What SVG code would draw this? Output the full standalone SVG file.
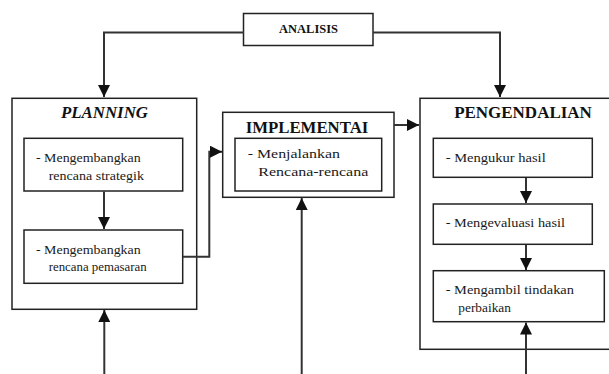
<svg xmlns="http://www.w3.org/2000/svg" width="609" height="374" viewBox="0 0 609 374">
<defs>
<style>
.box{fill:#fff;stroke:#222;stroke-width:1.5}
.ln{fill:none;stroke:#333;stroke-width:2}
.t{font-family:"Liberation Serif","Times New Roman",serif;font-size:13.5px;fill:#1a1a1a}
.h{font-family:"Liberation Serif","Times New Roman",serif;font-size:16.5px;font-weight:bold;fill:#111;text-anchor:middle}
</style>
<marker id="ahb" viewBox="0 0 12 12" refX="12" refY="6" markerWidth="12" markerHeight="12" markerUnits="userSpaceOnUse" orient="auto">
<path d="M0,0 L12,6 L0,12 Z" fill="#111"/>
</marker>
</defs>
<rect width="609" height="374" fill="#fff"/>

<g id="analisis">
<rect class="box" x="243.5" y="13.5" width="129.5" height="32"/>
<text x="308.5" y="32.5" text-anchor="middle" font-family="Liberation Serif, serif" font-size="12" font-weight="bold" fill="#111" textLength="59" lengthAdjust="spacingAndGlyphs">ANALISIS</text>
</g>

<g id="planning">
<rect class="box" x="12" y="98.3" width="184.7" height="211"/>
<text class="h" x="104.5" y="118" font-style="italic" textLength="87" lengthAdjust="spacingAndGlyphs">PLANNING</text>
</g>
<g id="planning-strategik">
<rect class="box" x="24" y="138.3" width="158.7" height="52.7"/>
<text class="t" x="36" y="162" textLength="104.7" lengthAdjust="spacingAndGlyphs">- Mengembangkan</text>
<text class="t" x="48.7" y="180" textLength="95.3" lengthAdjust="spacingAndGlyphs">rencana  strategik</text>
</g>
<g id="planning-pemasaran">
<rect class="box" x="24" y="230" width="158.7" height="53.3"/>
<text class="t" x="36" y="254" textLength="104.7" lengthAdjust="spacingAndGlyphs">- Mengembangkan</text>
<text class="t" x="48.7" y="271" textLength="98" lengthAdjust="spacingAndGlyphs">rencana pemasaran</text>
</g>

<g id="implementai">
<rect class="box" x="222.7" y="112.3" width="171.3" height="85"/>
<text class="h" x="307" y="133" textLength="122.6" lengthAdjust="spacingAndGlyphs">IMPLEMENTAI</text>
</g>
<g id="implementai-menjalankan">
<rect class="box" x="235" y="138.3" width="146.7" height="52.7"/>
<text class="t" x="247.7" y="158" textLength="92.3" lengthAdjust="spacingAndGlyphs">- Menjalankan</text>
<text class="t" x="258.3" y="176" textLength="110" lengthAdjust="spacingAndGlyphs">Rencana-rencana</text>
</g>

<g id="pengendalian">
<rect class="box" x="420" y="98.3" width="200" height="251"/>
<text class="h" x="523" y="118" textLength="137.7" lengthAdjust="spacingAndGlyphs">PENGENDALIAN</text>
</g>
<g id="pengendalian-mengukur">
<rect class="box" x="433.3" y="138.3" width="159" height="39"/>
<text class="t" x="445.7" y="162" textLength="100" lengthAdjust="spacingAndGlyphs">- Mengukur  hasil</text>
</g>
<g id="pengendalian-mengevaluasi">
<rect class="box" x="433.3" y="204" width="159" height="40.3"/>
<text class="t" x="445.7" y="226.5" textLength="119.3" lengthAdjust="spacingAndGlyphs">- Mengevaluasi  hasil</text>
</g>
<g id="pengendalian-mengambil">
<rect class="box" x="433.3" y="270.7" width="171" height="51"/>
<text class="t" x="445.7" y="293.5" textLength="128.3" lengthAdjust="spacingAndGlyphs">- Mengambil  tindakan</text>
<text class="t" x="458.3" y="311.5" textLength="52.7" lengthAdjust="spacingAndGlyphs">perbaikan</text>
</g>

<g id="connectors">
<path class="ln" d="M244,32.5 H104 V97" marker-end="url(#ahb)"/>
<path class="ln" d="M373,32.5 H500 V97" marker-end="url(#ahb)"/>
<path class="ln" d="M104,191.5 V229" marker-end="url(#ahb)"/>
<path class="ln" d="M183,256.7 H209.3 V151.7 H222" marker-end="url(#ahb)"/>
<path class="ln" d="M394,125 H419" marker-end="url(#ahb)"/>
<path class="ln" d="M104.3,374 V310" marker-end="url(#ahb)"/>
<path class="ln" d="M301.7,374 V198" marker-end="url(#ahb)"/>
<path class="ln" d="M526,178 V203" marker-end="url(#ahb)"/>
<path class="ln" d="M526,245 V270" marker-end="url(#ahb)"/>
<path class="ln" d="M526,374 V322.5" marker-end="url(#ahb)"/>
</g>
</svg>
